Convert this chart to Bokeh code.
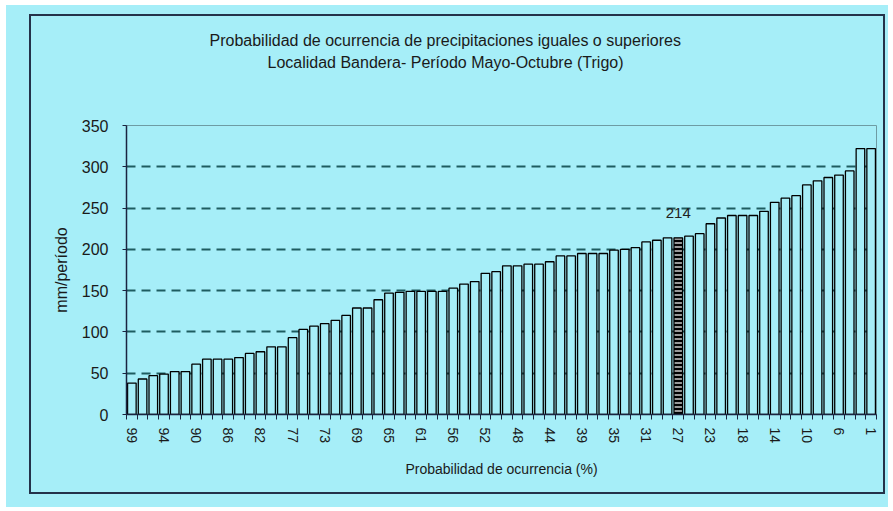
from bokeh.plotting import figure
from bokeh.models import FixedTicker, Label, ColumnDataSource, Range1d, Title
from bokeh.layouts import column
from bokeh.embed import file_html
from bokeh.resources import INLINE

# --- data -------------------------------------------------------------
values = [38, 43, 47, 49, 52, 52, 61, 67, 67, 67,
          69, 74, 76, 82, 82, 93, 103, 107, 110, 114,
          120, 129, 129, 139, 147, 148, 149, 149, 149, 149,
          153, 158, 161, 171, 173, 180, 180, 182, 182, 185,
          192, 192, 195, 195, 195, 199, 200, 202, 209, 211,
          214, 214, 216, 219, 231, 238, 241, 241, 241, 246,
          257, 262, 265, 278, 283, 287, 290, 295, 322, 322]
tick_labels = ["99", "94", "90", "86", "82", "77", "73", "69", "65", "61", "56", "52",
               "48", "44", "39", "35", "31", "27", "23", "18", "14", "10", "6", "1"]
highlight_bar = 52          # 1-based position of the marked bar
highlight_text = "214"
y_ticks = [0, 50, 100, 150, 200, 250, 300, 350]
title_lines = ["Probabilidad de ocurrencia de precipitaciones iguales o superiores",
               "Localidad Bandera- Período Mayo-Octubre (Trigo)"]
x_title = "Probabilidad de ocurrencia (%)"
y_title = "mm/período"

# --- style --------------------------------------------------------------
BG = "#A6EEF8"
FONT = "Liberation Sans"
W, H = 856, 480
LEFT, RIGHT, TOP, BOTTOM = 95, 11, 109, 82

n = len(values)
xs = list(range(1, n + 1))
normal = ColumnDataSource(dict(x=[x for x in xs if x != highlight_bar],
                               top=[v for x, v in zip(xs, values) if x != highlight_bar]))
hl = ColumnDataSource(dict(x=[highlight_bar], top=[values[highlight_bar - 1]]))

p = figure(width=W, height=H, output_backend="svg", toolbar_location=None,
           x_range=Range1d(0.5, n + 0.5), y_range=Range1d(0, 350),
           min_border_left=LEFT, min_border_right=RIGHT, min_border_top=TOP,
           min_border_bottom=BOTTOM)
p.background_fill_color = BG
p.border_fill_color = BG
p.outline_line_color = "#6E9CA4"
p.outline_line_width = 1
p.styles = {"border": "2px solid #24324A"}

p.vbar(x="x", top="top", width=0.8, source=normal, fill_color=BG,
       line_color="black", line_width=1.3)
p.vbar(x="x", top="top", width=0.8, source=hl, fill_color="black",
       line_color="black", line_width=1.3, hatch_pattern="horizontal_line",
       hatch_color="white", hatch_scale=4, hatch_weight=1.2)

p.add_layout(Label(x=highlight_bar, y=values[highlight_bar - 1], text=highlight_text,
                   text_align="center", text_baseline="bottom", y_offset=20,
                   text_font=FONT, text_font_size="15px", text_color="#222222"))

# titles: spacer nearest the plot, then second line, then first line
title_kw = dict(align="left", text_font=FONT, text_font_size="16px",
                text_font_style="normal", text_color="#1A1A1A")
p.add_layout(Title(text=" ", standoff=34, **title_kw), "above")
p.add_layout(Title(text=title_lines[1], offset=141, standoff=3, **title_kw), "above")
p.add_layout(Title(text=title_lines[0], offset=83, standoff=3, **title_kw), "above")

# grid
p.xgrid.grid_line_color = None
p.ygrid.ticker = FixedTicker(ticks=y_ticks[1:-1])
p.ygrid.grid_line_color = "#1E5C60"
p.ygrid.grid_line_width = 2
p.ygrid.grid_line_dash = "9 6"

# y axis
p.yaxis.ticker = FixedTicker(ticks=y_ticks)
p.yaxis.axis_line_color = "#1A2440"
p.yaxis.axis_line_width = 1.5
p.yaxis.major_tick_line_color = "#1A2440"
p.yaxis.major_tick_out = 4
p.yaxis.major_tick_in = 0
p.yaxis.minor_tick_line_color = None
p.yaxis.major_label_standoff = 14
p.yaxis.major_label_text_font = FONT
p.yaxis.major_label_text_font_size = "16px"
p.yaxis.major_label_text_color = "#1A1A1A"
p.yaxis.axis_label = y_title
p.yaxis.axis_label_text_font = FONT
p.yaxis.axis_label_text_font_size = "16px"
p.yaxis.axis_label_text_font_style = "normal"
p.yaxis.axis_label_text_color = "#1A1A1A"
p.yaxis.axis_label_standoff = 9

# x axis
tick_pos = [1 + 3 * k for k in range(len(tick_labels))]
boundaries = [i + 0.5 for i in range(0, n + 1)]
p.xaxis.ticker = FixedTicker(ticks=tick_pos, minor_ticks=boundaries)
p.xaxis.major_label_overrides = {t: l for t, l in zip(tick_pos, tick_labels)}
p.xaxis.major_label_orientation = "vertical"
p.xaxis.axis_line_color = "#1A2440"
p.xaxis.axis_line_width = 1.5
p.xaxis.major_tick_line_color = None
p.xaxis.major_tick_out = 0
p.xaxis.major_tick_in = 0
p.xaxis.minor_tick_line_color = "#1A2440"
p.xaxis.minor_tick_out = 5
p.xaxis.minor_tick_in = 0
p.xaxis.major_label_standoff = 8
p.xaxis.major_label_text_font = FONT
p.xaxis.major_label_text_font_size = "14px"
p.xaxis.major_label_text_color = "#1A1A1A"
p.xaxis.axis_label = x_title
p.xaxis.axis_label_text_font = FONT
p.xaxis.axis_label_text_font_size = "14px"
p.xaxis.axis_label_text_font_style = "normal"
p.xaxis.axis_label_text_color = "#1A1A1A"
p.xaxis.axis_label_standoff = 15

layout = column(p, styles={"background-color": BG, "padding": "9px 3px 13px 23px",
                           "margin": "5px 0px 0px 6px"})

open("out.html", "w").write(file_html(layout, INLINE))
